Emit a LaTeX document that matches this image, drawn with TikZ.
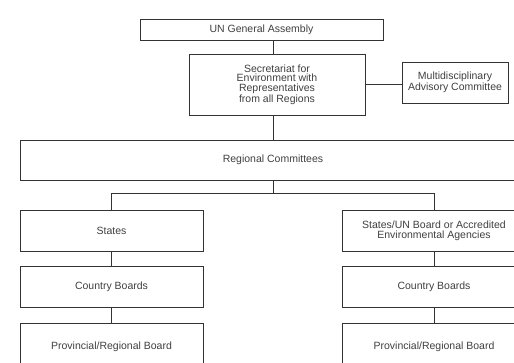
\documentclass[tikz,border=0pt]{standalone}
\usepackage{fontspec}
\setmainfont{Liberation Sans}
\begin{document}
\begin{tikzpicture}[x=1pt,y=-1pt,
  box/.style={draw=black!80, line width=0.8pt, rectangle, inner sep=0pt, align=center,
    font=\fontsize{10.5}{9.6}\selectfont, text=black!75},
  link/.style={draw=black!80, line width=0.8pt}]
\useasboundingbox (0,0) rectangle (514,363);
\clip (0,0) rectangle (514,363);
\fill[white] (0,0) rectangle (514,363);
\node[box, minimum width=243pt, minimum height=21pt] (un) at (261.5,29.5) {UN General Assembly};
\node[box, minimum width=176pt, minimum height=61pt] (sec) at (277,84.5)
  {Secretariat for\\Environment with\\Representatives\\from all Regions};
\node[box, minimum width=106pt, minimum height=41pt] (adv) at (455,82.5)
  {Multidisciplinary\\Advisory Committee};
\node[box, minimum width=506pt, minimum height=40pt] (reg) at (273,160) {Regional Committees};
\node[box, minimum width=183pt, minimum height=41pt] (st1) at (111.5,230.5) {States};
\node[box, minimum width=183pt, minimum height=41pt] (cb1) at (111.5,286.5) {Country Boards};
\node[box, minimum width=183pt, minimum height=47pt] (pb1) at (111.5,346.5) {Provincial/Regional Board};
\node[box, minimum width=183pt, minimum height=41pt] (st2) at (434,230.5)
  {States/UN Board or Accredited\\Environmental Agencies};
\node[box, minimum width=183pt, minimum height=41pt] (cb2) at (434,286.5) {Country Boards};
\node[box, minimum width=183pt, minimum height=47pt] (pb2) at (434,346.5) {Provincial/Regional Board};
\coordinate (bus) at (273,193);
\draw[link] (un.south -| 273,0) -- (sec.north -| 273,0);
\draw[link] (sec.east) -- (sec.east -| adv.west);
\draw[link] (sec.south -| 273,0) -- (reg.north -| 273,0);
\draw[link] (reg.south -| bus) -- (bus);
\draw[link] (st1.north) -- (st1.north |- bus) -- (st2.north |- bus) -- (st2.north);
\draw[link] (st1.south) -- (cb1.north);
\draw[link] (cb1.south) -- (pb1.north);
\draw[link] (st2.south) -- (cb2.north);
\draw[link] (cb2.south) -- (pb2.north);
\end{tikzpicture}
\end{document}
